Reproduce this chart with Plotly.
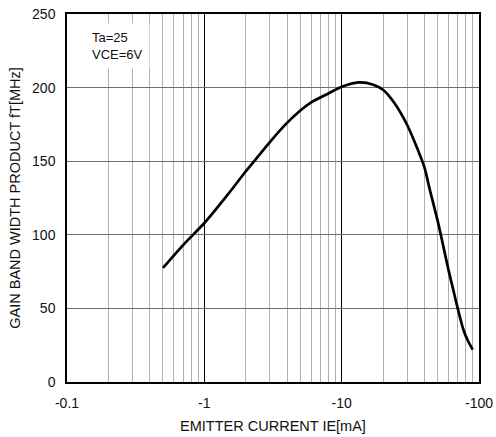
import plotly.graph_objects as go

# Data
ie_ma = [0.5, 0.7, 1.0, 1.5, 2.0, 2.5, 3.0, 4.0, 5.0, 6.0, 8.0, 10, 13.3, 17, 20, 24, 30, 34,
         40, 44, 50, 53, 60, 65, 70, 77, 83, 90]
ft_mhz = [77.5, 93, 108, 128, 143, 154, 163, 176, 184.5, 190, 196, 200.5, 203.5, 202, 198.5, 190, 174.6, 163,
          146, 130, 109.5, 99, 76, 62.5, 50, 35.5, 28, 22]

x_tickvals = [0.1, 1, 10, 100]
x_ticktext = ["-0.1", "-1", "-10", "-100"]
y_tickvals = [0, 50, 100, 150, 200, 250]
minor_vals = [m * d for d in (0.1, 1, 10) for m in range(2, 10)]

FONT = "Liberation Sans, Arial, sans-serif"

fig = go.Figure()
fig.add_trace(go.Scatter(
    x=ie_ma, y=ft_mhz, mode="lines",
    line=dict(color="black", width=2.7, shape="spline", smoothing=0.7),
    showlegend=False, hoverinfo="skip",
))

fig.update_layout(
    width=496, height=437,
    margin=dict(l=67, r=17, t=14, b=55),
    paper_bgcolor="white", plot_bgcolor="white",
    font=dict(family=FONT, size=14, color="#111111"),
    xaxis=dict(
        type="log", range=[-1, 2], automargin=False,
        tickvals=x_tickvals, ticktext=x_ticktext,
        showgrid=True, gridcolor="#000000", gridwidth=1,
        showline=True, linecolor="black", linewidth=1.5, mirror=True,
        ticks="", ticklabelstandoff=7,
        tickfont=dict(size=14),
        minor=dict(tickvals=minor_vals, showgrid=True, gridcolor="#b0b0b0", gridwidth=1.3, ticks=""),
        title=dict(text="EMITTER CURRENT IE[mA]", font=dict(size=14.5), standoff=11),
        zeroline=False,
    ),
    yaxis=dict(
        range=[0, 250], tickvals=y_tickvals, automargin=False,
        showgrid=True, gridcolor="#6e6e6e", gridwidth=1.4,
        showline=True, linecolor="black", linewidth=1.5, mirror=True,
        ticks="", ticklabelstandoff=7,
        tickfont=dict(size=14),
        title=dict(text="GAIN BAND WIDTH PRODUCT fT[MHz]", font=dict(size=14.5), standoff=8),
        zeroline=False,
    ),
    annotations=[dict(
        text="Ta=25<br>VCE=6V", xref="paper", yref="paper",
        x=0.043, y=0.975, xanchor="left", yanchor="top", align="left",
        showarrow=False, bgcolor="white", borderpad=6,
        font=dict(family=FONT, size=13, color="#111111"),
    )],
)

fig.write_html("out.html", config={"displayModeBar": False},
               post_script="document.body.style.margin='0';")
